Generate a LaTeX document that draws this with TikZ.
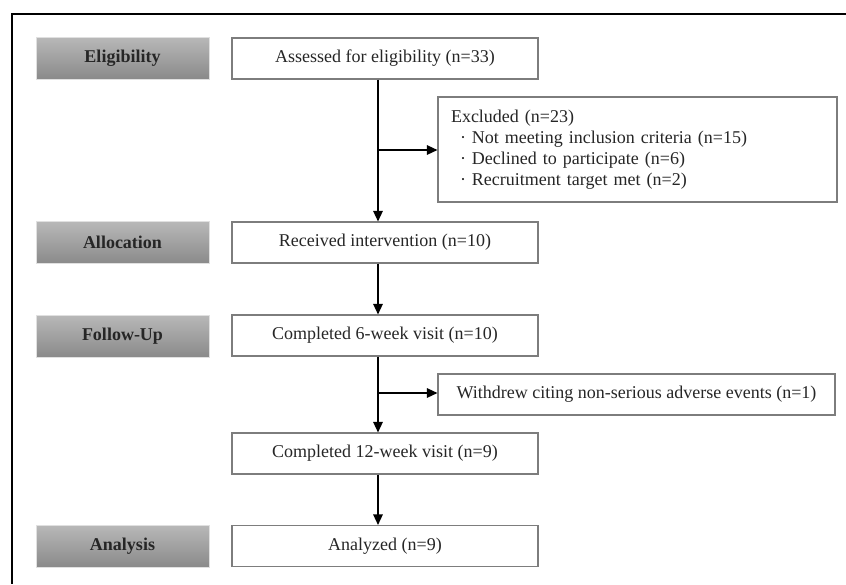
\documentclass[tikz,border=0pt]{standalone}
\usepackage{fontspec}
\setmainfont{Liberation Serif}
\usetikzlibrary{arrows.meta}
\definecolor{stagetop}{RGB}{184,184,184}
\definecolor{stagebot}{RGB}{138,138,138}
\definecolor{boxline}{RGB}{125,125,125}

\begin{document}
\begin{tikzpicture}[x=1pt,y=-1pt,stage/.style={rectangle,draw=black!12,line width=0.8pt,top color=stagetop,bottom color=stagebot,minimum width=173pt,minimum height=42pt,inner sep=0pt,font=\fontsize{18}{21}\selectfont\bfseries,text=black!85},event/.style={rectangle,draw=boxline,line width=1.1pt,fill=white,minimum width=306pt,minimum height=41pt,inner sep=0pt,font=\fontsize{18}{21}\selectfont,text=black!85},flow/.style={line width=1.4pt,-{Triangle[length=10.5pt,width=9.5pt]}}]
\useasboundingbox (0,0) rectangle (846,584);
\draw[line width=2.5pt] (846,14) -- (12,14) -- (12,584);
\coordinate (E) at (122.5,58);
\coordinate (AL) at (122.5,242.5);
\coordinate (FU) at (122.5,336);
\coordinate (AN) at (122.5,546);
\coordinate (S1) at (385,58.5);
\coordinate (S2) at (385,242.5);
\coordinate (S3) at (385,335.5);
\coordinate (S4) at (385,453.5);
\coordinate (S5) at (385,546);
\coordinate (X1) at (637.5,149.5);
\coordinate (X2) at (636.5,394.5);
\coordinate (spine) at (378,0);
\coordinate (J1) at (378,150);
\coordinate (J2) at (378,393);
\node[stage] (elig) at (E) {Eligibility};
\node[stage] (alloc) at (AL) {Allocation};
\node[stage] (follow) at (FU) {Follow-Up};
\node[stage] (analysis) at (AN) {Analysis};
\node[event] (assessed) at (S1) {Assessed for eligibility (n=33)};
\node[event] (received) at (S2) {Received intervention (n=10)};
\node[event] (week6) at (S3) {Completed 6-week visit (n=10)};
\node[event] (week12) at (S4) {Completed 12-week visit (n=9)};
\node[event] (analyzed) at (S5) {Analyzed (n=9)};
\node[event,minimum width=399pt,minimum height=105pt,text width=373pt,align=left] (excluded) at (X1) {Excluded (n=23)\\
\hspace*{9pt}· Not meeting inclusion criteria (n=15)\\
\hspace*{9pt}· Declined to participate (n=6)\\
\hspace*{9pt}· Recruitment target met (n=2)};
\node[event,minimum width=397pt] (withdrew) at (X2) {Withdrew citing non-serious adverse events (n=1)};
\draw[flow] (assessed.south -| spine) -- (received.north -| spine);
\draw[flow] (J1) -- (J1 -| excluded.west);
\draw[flow] (received.south -| spine) -- (week6.north -| spine);
\draw[flow] (week6.south -| spine) -- (week12.north -| spine);
\draw[flow] (J2) -- (J2 -| withdrew.west);
\draw[flow] (week12.south -| spine) -- (analyzed.north -| spine);
\end{tikzpicture}
\end{document}
